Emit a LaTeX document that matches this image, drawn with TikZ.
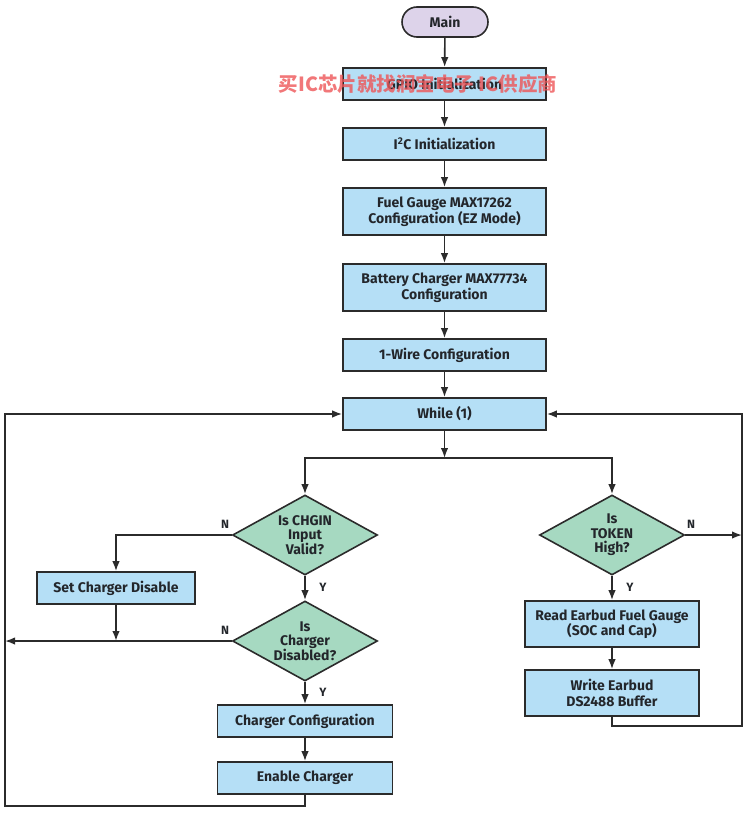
\documentclass[tikz,border=0pt]{standalone}
\usepackage{fontspec}
\setmainfont{Fira Sans}
\newfontfamily\cjk{Noto Sans CJK SC}
\usetikzlibrary{shapes.geometric,arrows.meta}

\definecolor{boxblue}{HTML}{B5DFF6}
\definecolor{decgreen}{HTML}{A6D9C1}
\definecolor{termpurple}{HTML}{DDD3EA}
\definecolor{linegray}{HTML}{2B2B2B}
\definecolor{textdark}{HTML}{23262B}
\definecolor{wmred}{HTML}{EE5557}

\begin{document}
\begin{tikzpicture}[x=1pt, y=-1pt, line join=miter,
    flow/.style={draw=linegray, line width=1.6pt,
                 -{Latex[length=10pt,width=7.5pt]}},
    procbox/.style={rectangle, draw=linegray, line width=1.6pt,
                    fill=boxblue, minimum width=203pt, minimum height=32pt,
                    inner sep=0pt, align=center, text=textdark,
                    font=\bfseries\fontsize{14}{15.5}\selectfont},
    decision/.style={diamond, draw=linegray, line width=1.6pt,
                     fill=decgreen, minimum width=145pt, minimum height=80pt,
                     aspect=1.8, inner xsep=-6pt, inner ysep=-3pt,
                     align=center, text=textdark,
                     font=\bfseries\fontsize{14}{14.5}\selectfont},
    termbox/.style={rectangle, rounded corners=15pt, draw=linegray,
                    line width=1.6pt, fill=termpurple, minimum width=86pt,
                    minimum height=30pt, text=textdark,
                    font=\bfseries\fontsize{14}{15.5}\selectfont},
    yn/.style={text=textdark, inner sep=0pt,
               font=\bfseries\fontsize{12}{13}\selectfont},
    wmark/.style={text=wmred, opacity=0.8, inner sep=0pt,
                  font=\cjk\bfseries\fontsize{19.5}{22}\selectfont}]
\useasboundingbox (0,0) rectangle (753,813);

% main sequence
\node[termbox] (main) at (445,22) {Main};
\node[procbox] (gpio) at (444.5,84) {GPIO Initialization};
\node[procbox] (itwoc) at (444.5,144) {I\textsuperscript{2}C Initialization};
\node[procbox, minimum height=47pt] (fuel) at (444.5,211.5)
    {Fuel Gauge MAX17262\\Configuration (EZ Mode)};
\node[procbox, minimum height=47pt] (charger) at (444.5,287.5)
    {Battery Charger MAX77734\\Configuration};
\node[procbox] (onewire) at (444.5,355) {1-Wire Configuration};
\node[procbox] (loop) at (444.5,414) {While (1)};

% left branch
\node[decision] (chgin) at (305,535) {Is CHGIN\\Input\\Valid?};
\node[procbox, minimum width=158pt] (setdis) at (116,588) {Set Charger Disable};
\node[decision] (disabled) at (305,641) {Is\\Charger\\Disabled?};
\node[procbox, minimum width=175pt] (chgcfg) at (305,721) {Charger Configuration};
\node[procbox, minimum width=175pt] (enable) at (305,778) {Enable Charger};

% right branch
\node[decision] (token) at (612,535) {Is\\TOKEN\\High?};
\node[procbox, minimum width=174pt, minimum height=46pt] (readfg) at (612,624)
    {Read Earbud Fuel Gauge\\(SOC and Cap)};
\node[procbox, minimum width=174pt, minimum height=46pt] (writebuf) at (612,693)
    {Write Earbud\\DS2488 Buffer};

% junctions
\coordinate (split) at (444.5,458);
\coordinate (lowleft) at (5,806);
\coordinate (lowright) at (742,726);
\coordinate (tokenout) at (742,535);

\draw[flow] (main) -- (gpio);
\draw[flow] (gpio) -- (itwoc);
\draw[flow] (itwoc) -- (fuel);
\draw[flow] (fuel) -- (charger);
\draw[flow] (charger) -- (onewire);
\draw[flow] (onewire) -- (loop);
\draw[flow] (loop) -- (split);
\draw[flow] (split) -| (chgin.north);
\draw[flow] (split) -| (token.north);

\draw[flow] (chgin.west) -| (setdis.north);
\node[yn] (chginN) at (225,524) {N};
\draw[flow] (chgin.south) -- (disabled.north);
\node[yn] (chginY) at (323,587) {Y};
\draw[flow] (setdis.south) -- (setdis.south |- disabled.west);
\draw[flow] (disabled.west) -- (disabled.west -| lowleft);
\node[yn] (disabledN) at (225,630) {N};
\draw[flow] (disabled.south) -- (chgcfg.north);
\node[yn] (disabledY) at (323,692) {Y};
\draw[flow] (chgcfg) -- (enable);
\draw[flow] (enable.south) |- (lowleft) |- (loop.west);

\draw[flow] (token.east) -- (tokenout);
\node[yn] (tokenN) at (691,524) {N};
\draw[flow] (token.south) -- (readfg.north);
\node[yn] (tokenY) at (630,587) {Y};
\draw[flow] (readfg) -- (writebuf);
\draw[flow] (writebuf.south) |- (lowright) |- (loop.east);

% overlay
\node[wmark] (watermark) at (418,84) {买IC芯片就找润宝电子 IC供应商};
\end{tikzpicture}
\end{document}
